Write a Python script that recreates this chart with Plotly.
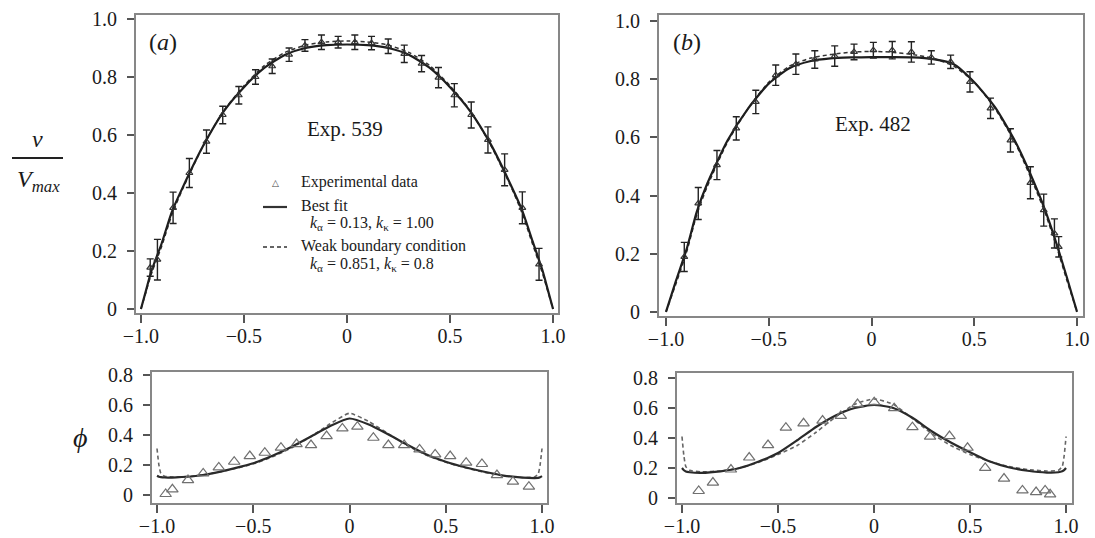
import plotly.graph_objects as go

W, H = 1095, 538

# ---------------- data: top panels (velocity) ----------------
a_x = [-0.955, -0.92, -0.844, -0.765, -0.682, -0.603, -0.525, -0.444, -0.363, -0.281, -0.204,
       -0.124, -0.043, 0.038, 0.119, 0.200, 0.278, 0.362, 0.444, 0.521, 0.603, 0.684, 0.765, 0.851, 0.932]
a_v = [0.143, 0.17, 0.349, 0.469, 0.577, 0.669, 0.737, 0.800, 0.837, 0.877, 0.909,
       0.920, 0.920, 0.920, 0.917, 0.906, 0.880, 0.846, 0.798, 0.737, 0.669, 0.583, 0.480, 0.349, 0.154]
a_err = [0.03, 0.07, 0.054, 0.05, 0.04, 0.03, 0.03, 0.025, 0.025, 0.023, 0.02,
         0.025, 0.02, 0.025, 0.023, 0.025, 0.03, 0.028, 0.035, 0.04, 0.045, 0.045, 0.055, 0.055, 0.055]

curve_x = [-1.0, -0.975, -0.95, -0.9, -0.85, -0.8, -0.7, -0.6, -0.5, -0.4, -0.3, -0.2, -0.1, 0.0,
           0.1, 0.2, 0.3, 0.4, 0.5, 0.6, 0.7, 0.8, 0.85, 0.9, 0.95, 0.975, 1.0]
a_fit = [0.0, 0.065, 0.13, 0.225, 0.335, 0.415, 0.56, 0.68, 0.765, 0.832, 0.877, 0.900, 0.910, 0.912,
         0.910, 0.900, 0.877, 0.832, 0.765, 0.68, 0.565, 0.42, 0.34, 0.235, 0.13, 0.065, 0.0]
a_weak = [0.0, 0.06, 0.12, 0.215, 0.325, 0.41, 0.56, 0.682, 0.77, 0.84, 0.885, 0.91, 0.921, 0.924,
          0.921, 0.91, 0.885, 0.84, 0.77, 0.682, 0.562, 0.415, 0.33, 0.225, 0.12, 0.06, 0.0]

b_x = [-0.911, -0.843, -0.752, -0.658, -0.563, -0.466, -0.368, -0.276, -0.179, -0.085, 0.009,
       0.101, 0.194, 0.291, 0.385, 0.479, 0.579, 0.676, 0.773, 0.838, 0.89, 0.911]
b_v = [0.189, 0.373, 0.505, 0.631, 0.722, 0.814, 0.852, 0.868, 0.880, 0.894, 0.900,
       0.900, 0.894, 0.875, 0.860, 0.791, 0.700, 0.590, 0.444, 0.350, 0.270, 0.224]
b_err = [0.05, 0.055, 0.05, 0.04, 0.04, 0.035, 0.035, 0.03, 0.035, 0.027, 0.027,
         0.03, 0.035, 0.023, 0.023, 0.035, 0.035, 0.04, 0.055, 0.055, 0.05, 0.035]

b_fit = [0.0, 0.055, 0.11, 0.215, 0.345, 0.44, 0.59, 0.70, 0.785, 0.838, 0.862, 0.872, 0.875, 0.876,
         0.876, 0.875, 0.869, 0.852, 0.79, 0.705, 0.585, 0.43, 0.34, 0.235, 0.12, 0.06, 0.0]
b_weak = [0.0, 0.05, 0.10, 0.205, 0.335, 0.43, 0.585, 0.70, 0.79, 0.845, 0.872, 0.885, 0.893, 0.896,
          0.893, 0.885, 0.872, 0.845, 0.79, 0.70, 0.58, 0.42, 0.33, 0.225, 0.11, 0.055, 0.0]

# ---------------- data: bottom panels (phi) ----------------
pa_x = [-0.955, -0.92, -0.839, -0.76, -0.679, -0.599, -0.518, -0.44, -0.356, -0.275, -0.2, -0.119,
        -0.037, 0.041, 0.124, 0.202, 0.284, 0.364, 0.445, 0.523, 0.606, 0.688, 0.766, 0.849, 0.932]
pa_phi = [0.007, 0.038, 0.10, 0.144, 0.184, 0.222, 0.26, 0.282, 0.316, 0.34, 0.333, 0.393,
          0.444, 0.456, 0.382, 0.333, 0.333, 0.304, 0.271, 0.26, 0.216, 0.207, 0.133, 0.089, 0.056]

phi_x = [-1.0, -0.99, -0.98, -0.96, -0.9, -0.8, -0.7, -0.6, -0.5, -0.4, -0.3, -0.2, -0.1, 0.0,
         0.1, 0.2, 0.3, 0.4, 0.5, 0.6, 0.7, 0.8, 0.9, 0.96, 0.98, 0.99, 1.0]
pa_fit = [0.128, 0.122, 0.119, 0.117, 0.118, 0.127, 0.148, 0.178, 0.212, 0.262, 0.322, 0.39, 0.46, 0.51,
          0.47, 0.405, 0.335, 0.27, 0.222, 0.185, 0.155, 0.13, 0.116, 0.113, 0.114, 0.118, 0.126]
pa_weak = [0.31, 0.2, 0.145, 0.125, 0.12, 0.128, 0.148, 0.175, 0.208, 0.255, 0.315, 0.39, 0.475, 0.545,
           0.49, 0.41, 0.33, 0.265, 0.218, 0.182, 0.152, 0.128, 0.117, 0.12, 0.14, 0.2, 0.31]

pb_x = [-0.913, -0.839, -0.745, -0.65, -0.552, -0.459, -0.367, -0.268, -0.173, -0.086, 0.001,
        0.105, 0.2, 0.292, 0.393, 0.487, 0.579, 0.677, 0.773, 0.844, 0.891, 0.917]
pb_phi = [0.047, 0.103, 0.19, 0.27, 0.353, 0.469, 0.498, 0.516, 0.547, 0.626, 0.639,
          0.599, 0.472, 0.409, 0.413, 0.335, 0.201, 0.13, 0.051, 0.04, 0.051, 0.025]

pb_fit = [0.2, 0.185, 0.177, 0.172, 0.168, 0.178, 0.2, 0.243, 0.3, 0.385, 0.475, 0.55, 0.6, 0.62,
          0.6, 0.535, 0.445, 0.37, 0.305, 0.245, 0.205, 0.182, 0.17, 0.172, 0.178, 0.186, 0.2]
pb_weak = [0.41, 0.28, 0.21, 0.185, 0.175, 0.18, 0.2, 0.238, 0.29, 0.35, 0.44, 0.54, 0.625, 0.66,
           0.625, 0.53, 0.43, 0.35, 0.29, 0.245, 0.21, 0.19, 0.18, 0.185, 0.21, 0.28, 0.41]

x_ticks = [-1.0, -0.5, 0.0, 0.5, 1.0]
x_ticktext = ["\u22121.0", "\u22120.5", "0", "0.5", "1.0"]
v_ticks = [0, 0.2, 0.4, 0.6, 0.8, 1.0]
v_ticktext = ["0", "0.2", "0.4", "0.6", "0.8", "1.0"]
phi_ticks = [0, 0.2, 0.4, 0.6, 0.8]
phi_ticktext = ["0", "0.2", "0.4", "0.6", "0.8"]

# ---------------- styling ----------------
SERIF = "Liberation Serif, Times New Roman, serif"
TXT = "#1a1a1a"
FRAME = "rgb(135,135,135)"

def px_dom_x(a, b):
    return [a / W, b / W]

def px_dom_y(top, bottom):
    return [1 - bottom / H, 1 - top / H]

fig = go.Figure()

def add_top(xs, ys, errs, fit, weak, xa, ya):
    fig.add_trace(go.Scatter(x=curve_x, y=weak, mode="lines", xaxis=xa, yaxis=ya,
                             line=dict(color="#333333", width=1.5, dash="4px,3px", shape="spline", smoothing=0.6),
                             showlegend=False, hoverinfo="skip"))
    fig.add_trace(go.Scatter(x=curve_x, y=fit, mode="lines", xaxis=xa, yaxis=ya,
                             line=dict(color="#1e1e1e", width=2.2, shape="spline", smoothing=0.6),
                             showlegend=False, hoverinfo="skip"))
    fig.add_trace(go.Scatter(x=xs, y=ys, mode="markers", xaxis=xa, yaxis=ya,
                             marker=dict(symbol="triangle-up-open", size=6, color="#333333",
                                         line=dict(width=1.2, color="#333333")),
                             error_y=dict(type="data", array=errs, visible=True, color="#222222",
                                          thickness=1.4, width=3.5),
                             showlegend=False))

def add_bottom(xs, ys, fit, weak, xa, ya):
    fig.add_trace(go.Scatter(x=phi_x, y=weak, mode="lines", xaxis=xa, yaxis=ya,
                             line=dict(color="#666666", width=1.6, dash="4px,3px", shape="spline", smoothing=0.5),
                             showlegend=False, hoverinfo="skip"))
    fig.add_trace(go.Scatter(x=phi_x, y=fit, mode="lines", xaxis=xa, yaxis=ya,
                             line=dict(color="#2a2a2a", width=2.2, shape="spline", smoothing=0.6),
                             showlegend=False, hoverinfo="skip"))
    fig.add_trace(go.Scatter(x=xs, y=ys, mode="markers", xaxis=xa, yaxis=ya,
                             marker=dict(symbol="triangle-up-open", size=10, color="#707070",
                                         line=dict(width=1.2, color="#707070")),
                             showlegend=False))

add_top(a_x, a_v, a_err, a_fit, a_weak, "x", "y")
add_top(b_x, b_v, b_err, b_fit, b_weak, "x2", "y2")
add_bottom(pa_x, pa_phi, pa_fit, pa_weak, "x3", "y3")
add_bottom(pb_x, pb_phi, pb_fit, pb_weak, "x4", "y4")

def xax(dom, rng, anchor):
    return dict(domain=dom, range=rng, anchor=anchor, tickvals=x_ticks, ticktext=x_ticktext,
                showline=True, mirror=True, linecolor=FRAME, linewidth=2,
                ticks="outside", ticklen=8, tickwidth=1.5, tickcolor="#555555",
                showgrid=False, zeroline=False, ticklabelstandoff=-4,
                tickfont=dict(family=SERIF, size=20, color=TXT))

def yax(dom, rng, anchor, tv, tt):
    return dict(domain=dom, range=rng, anchor=anchor, tickvals=tv, ticktext=tt,
                showline=True, mirror=True, linecolor=FRAME, linewidth=2,
                ticks="outside", ticklen=7, tickwidth=1.5, tickcolor="#555555",
                showgrid=False, zeroline=False, ticklabelstandoff=6,
                tickfont=dict(family=SERIF, size=20, color=TXT))

annotations = []
def ann(x, y, text, size, xanchor="center", yanchor="middle", family=SERIF, color=TXT):
    annotations.append(dict(x=x / W, y=1 - y / H, xref="paper", yref="paper", text=text,
                            showarrow=False, xanchor=xanchor, yanchor=yanchor,
                            font=dict(family=family, size=size, color=color)))

ann(163, 42, "(<i>a</i>)", 24)
ann(687, 42, "(<i>b</i>)", 24)
ann(345, 129, "Exp. 539", 21)
ann(873, 124, "Exp. 482", 21)

# legend (panel a)
ann(275, 183, "\u25b3", 9, family="DejaVu Sans", color="#444444")
ann(299, 182, "Experimental data", 16, xanchor="left")
ann(299, 205, "Best fit", 16, xanchor="left")
ann(308, 223, "<i>k</i><sub>\u03b1</sub> = 0.13, <i>k</i><sub>\u03ba</sub> = 1.00", 16, xanchor="left")
ann(299, 246, "Weak boundary condition", 16, xanchor="left")
ann(308, 264, "<i>k</i><sub>\u03b1</sub> = 0.851, <i>k</i><sub>\u03ba</sub> = 0.8", 16, xanchor="left")

# axis titles
ann(37, 139, "<i>v</i>", 24)
ann(38, 181, "<i>V<sub>max</sub></i>", 24)
ann(80, 437, "<i>\u03d5</i>", 28)

shapes = [
    dict(type="line", xref="paper", yref="paper", x0=263 / W, x1=287 / W, y0=1 - 207 / H, y1=1 - 207 / H,
         line=dict(color="#333333", width=2.2)),
    dict(type="line", xref="paper", yref="paper", x0=263 / W, x1=287 / W, y0=1 - 247 / H, y1=1 - 247 / H,
         line=dict(color="#333333", width=1.3, dash="4px,3px")),
    dict(type="line", xref="paper", yref="paper", x0=12 / W, x1=63 / W, y0=1 - 158 / H, y1=1 - 158 / H,
         line=dict(color="#222222", width=2)),
]

fig.update_layout(
    width=W, height=H, autosize=False,
    margin=dict(l=0, r=0, t=0, b=0, pad=0, autoexpand=False),
    paper_bgcolor="white", plot_bgcolor="white",
    showlegend=False,
    xaxis=xax(px_dom_x(136, 558), [-1.024, 1.024], "y"),
    yaxis=yax(px_dom_y(15, 313), [-0.0138, 1.0138], "x", v_ticks, v_ticktext),
    xaxis2=xax(px_dom_x(659, 1083), [-1.034, 1.029], "y2"),
    yaxis2=yax(px_dom_y(15, 316), [-0.014, 1.021], "x2", v_ticks, v_ticktext),
    xaxis3=xax(px_dom_x(152, 547), [-1.026, 1.026], "y3"),
    yaxis3=yax(px_dom_y(372, 503), [-0.053, 0.82], "x3", phi_ticks, phi_ticktext),
    xaxis4=xax(px_dom_x(677, 1072), [-1.026, 1.031], "y4"),
    yaxis4=yax(px_dom_y(373, 503), [-0.033, 0.833], "x4", phi_ticks, phi_ticktext),
    annotations=annotations,
    shapes=shapes,
)

fig.write_html("out.html", config={"displayModeBar": False},
               post_script="document.body.style.margin='0px';document.body.style.overflow='hidden';")
